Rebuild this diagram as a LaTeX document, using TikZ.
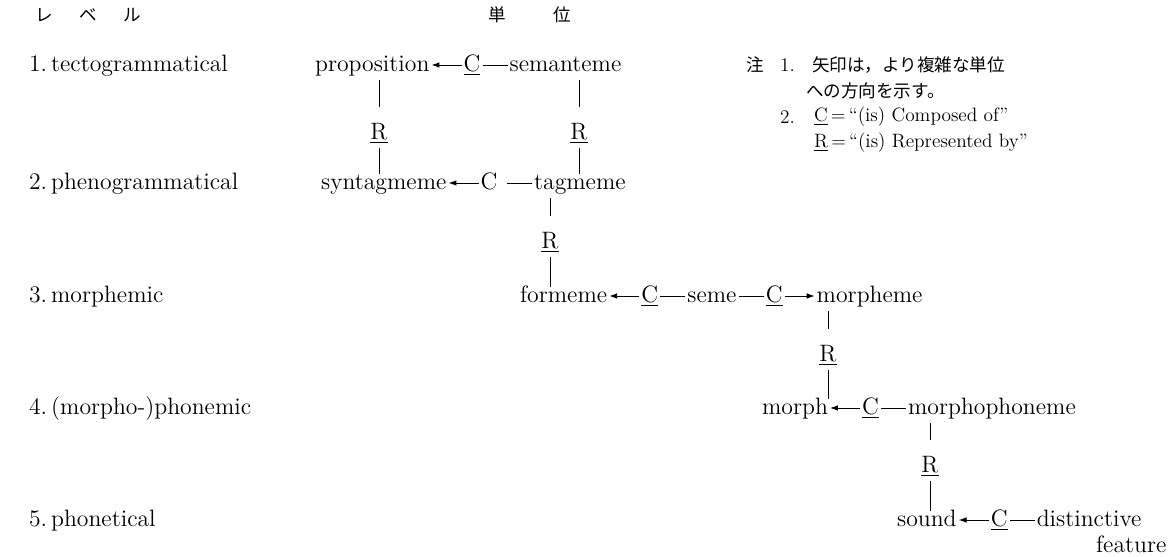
\documentclass[tikz,border=0pt]{standalone}
\usepackage{fontspec}
\newfontfamily\jpfont{Noto Sans CJK JP}
\usetikzlibrary{arrows.meta, positioning}

\begin{document}
\begin{tikzpicture}[
    x=0.02cm, y=-0.02cm,
    word/.style={inner sep=1pt, font=\fontsize{13.5}{16}\selectfont,
                 text height=9pt, text depth=2pt},
    lvl/.style={word, anchor=west},
    jp/.style={inner sep=1pt, font=\jpfont\fontsize{10}{12}\selectfont},
    note/.style={inner sep=1pt, font=\fontsize{11}{13}\selectfont, anchor=west},
    conn/.style={line width=0.55pt},
    arr/.style={conn, -{Latex[length=4.5pt, width=3.2pt]}},
    upln/.style={conn, shorten <=2pt, shorten >=8pt},
    loln/.style={conn, shorten <=2pt, shorten >=-1.5pt},
]
\useasboundingbox (0,0) rectangle (1171,557);

% ── Headings ──
\node[jp] (lvhead) at (88,15) {レ\hspace{1.5em}ベ\hspace{1.5em}ル};
\node[jp] (unhead) at (530,15) {単\hspace{2.7em}位};

% ── Levels ──
\node[lvl] (lv1) at (27,65) {1.\,tectogrammatical};
\node[lvl] (lv2) at (27,183) {2.\,phenogrammatical};
\node[lvl] (lv3) at (27,296) {3.\,morphemic};
\node[lvl] (lv4) at (27,408) {4.\,(morpho-)phonemic};
\node[lvl] (lv5) at (27,520) {5.\,phonetical};

% ── Row 1 ──
\node[word, anchor=west] (prop) at (313,65) {proposition};
\node[word, right=0.6cm of prop] (c1) {\underline{C}};
\node[word, right=0.5cm of c1] (seman) {semanteme};
\draw[arr] (c1) -- (prop);
\draw[conn] (seman) -- (c1);

% ── Row 2 ──
\node[word, anchor=west] (synt) at (319,183) {syntagmeme};
\node[word, right=0.6cm of synt] (c2) {C};
\node[word, right=0.65cm of c2] (tagm) {tagmeme};
\draw[arr] (c2) -- (synt);
\draw[conn, shorten >=0.15cm] (tagm) -- (c2);

% ── Row 3 ──
\node[word, anchor=west] (form) at (518,296) {formeme};
\node[word, right=0.6cm of form] (c3) {\underline{C}};
\node[word, right=0.5cm of c3] (seme) {seme};
\node[word, right=0.5cm of seme] (c4) {\underline{C}};
\node[word, right=0.6cm of c4] (mphm) {morpheme};
\draw[arr] (c3) -- (form);
\draw[conn] (seme) -- (c3);
\draw[conn] (seme) -- (c4);
\draw[arr] (c4) -- (mphm);

% ── Row 4 ──
\node[word, anchor=west] (morph) at (760,408) {morph};
\node[word, right=0.6cm of morph] (c5) {\underline{C}};
\node[word, right=0.5cm of c5] (mphon) {morphophoneme};
\draw[arr] (c5) -- (morph);
\draw[conn] (mphon) -- (c5);

% ── Row 5 ──
\node[word, anchor=west] (sound) at (895,520) {sound};
\node[word, right=0.6cm of sound] (c6) {\underline{C}};
\node[word, right=0.5cm of c6] (dist) {distinctive};
\node[word, anchor=east] (feat) at ([xshift=0.5cm, yshift=-0.52cm]dist.east) {feature};
\draw[arr] (c6) -- (sound);
\draw[conn] (dist) -- (c6);

% ── R links ──
\node[word] (r1) at (379,133) {\underline{R}};
\node[word] (r2) at (579,133) {\underline{R}};
\node[word] (r3) at (550,242) {\underline{R}};
\node[word] (r4) at (828,355) {\underline{R}};
\node[word] (r5) at (930,466) {\underline{R}};
\foreach \r/\a/\b in {r1/prop/synt, r2/seman/tagm, r3/tagm/form,
                      r4/mphm/morph, r5/mphon/sound} {
  \draw[upln] (\r |- \a.south) -- (\r.north);
  \draw[loln] (\r.south) -- (\r |- \b.north);
}

% ── Notes ──
\node[jp] (nt) at (755,65) {注};
\node[note] (n1) at (778,65) {1.};
\node[jp, anchor=west] (n1a) at (810,65) {矢印は，より複雑な単位};
\node[jp, anchor=west] (n1b) at (804,91) {への方向を示す。};
\node[note] (n2) at (778,117) {2.};
\node[note] (n2a) at (812,117) {\underline{C}\,=\,``(is) Composed of''};
\node[note] (n2b) at (812,143) {\underline{R}\,=\,``(is) Represented by''};
\end{tikzpicture}
\end{document}
